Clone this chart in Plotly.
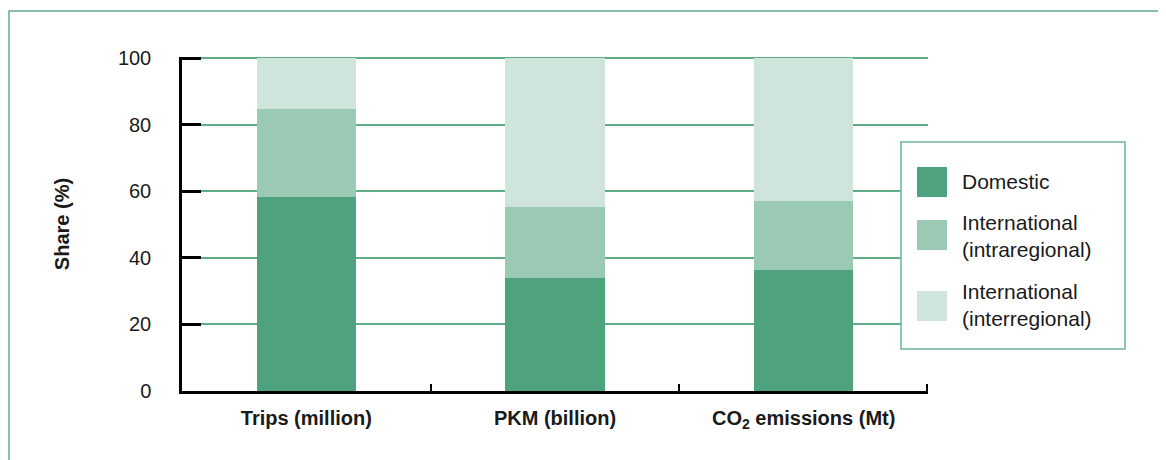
import plotly.graph_objects as go

categories = ["Trips (million)", "PKM (billion)", "CO<sub>2</sub> emissions (Mt)"]
domestic = [58.3, 33.9, 36.3]
intraregional = [26.4, 21.4, 20.7]
interregional = [15.3, 44.7, 43.0]
series_names = ["Domestic", "International<br>(intraregional)", "International<br>(interregional)"]
colors = ["#4EA27D", "#9BCAB4", "#CFE5DB"]
y_ticks = [0, 20, 40, 60, 80, 100]

W, H = 1166, 460
OFF = 8  # page body margin
L, R, T, B = 182, 928, 57, 391  # plot area bounds in screen pixels


def px(x):
    return (x - L) / (R - L)


def py(y):
    return (B - y) / (B - T)


fig = go.Figure()
for name, vals, col in zip(series_names, [domestic, intraregional, interregional], colors):
    fig.add_trace(go.Bar(x=categories, y=vals, name=name, marker=dict(color=col, line=dict(width=0)),
                         showlegend=False))

font_family = "Liberation Sans, Arial, Helvetica, sans-serif"
green_line = "#5FAE8A"

shapes = [
    dict(type="rect", xref="paper", yref="paper", x0=px(9), x1=px(1200), y0=py(11), y1=py(480),
         line=dict(color="#5FAE8A", width=1.5), fillcolor="rgba(0,0,0,0)", layer="below"),
    dict(type="rect", xref="paper", yref="paper", x0=px(901), x1=px(1125), y0=py(142), y1=py(349),
         line=dict(color="#6DB596", width=1.5), fillcolor="white", layer="above"),
    # closing category-boundary tick at the right end of the x axis
    dict(type="line", xref="paper", yref="paper", x0=px(927), x1=px(927), y0=0, y1=py(384),
         line=dict(color="black", width=2), layer="above"),
]
annotations = []
sq_tops = [167, 220, 291]
text_centers = [181, 236, 305]
for name, col, top, tc in zip(series_names, colors, sq_tops, text_centers):
    shapes.append(dict(type="rect", xref="paper", yref="paper", x0=px(917), x1=px(947),
                       y0=py(top), y1=py(top + 30), line=dict(width=0), fillcolor=col, layer="above"))
    annotations.append(dict(xref="paper", yref="paper", x=px(960), y=py(tc), text=name,
                            showarrow=False, xanchor="left", yanchor="middle", align="left",
                            font=dict(family=font_family, size=21, color="#1a1a1a")))

fig.update_layout(
    width=W, height=H,
    margin=dict(l=L - OFF, r=W - (R - OFF), t=T - OFF, b=H - (B - OFF), pad=0),
    paper_bgcolor="white", plot_bgcolor="white",
    barmode="stack", bargap=0.6,
    font=dict(family=font_family, size=20, color="#1a1a1a"),
    shapes=shapes, annotations=annotations,
    showlegend=False,
)
fig.update_yaxes(
    range=[0, 100.4], tickvals=y_ticks, ticktext=[str(v) for v in y_ticks],
    showgrid=True, gridcolor=green_line, gridwidth=1.5,
    showline=True, linecolor="black", linewidth=2.5,
    ticks="inside", ticklen=19, tickwidth=2.5, tickcolor="black",
    ticklabelstandoff=24, zeroline=False,
    title=dict(text="Share (%)", standoff=43, font=dict(size=20, family=font_family, weight="bold")),
    tickfont=dict(size=20),
)
fig.update_xaxes(
    showline=True, linecolor="black", linewidth=2.5,
    ticks="inside", tickson="boundaries", ticklen=7, tickwidth=2, tickcolor="black",
    ticklabelstandoff=7,
    tickfont=dict(size=20, weight="bold"),
)

fig.write_html("out.html")
